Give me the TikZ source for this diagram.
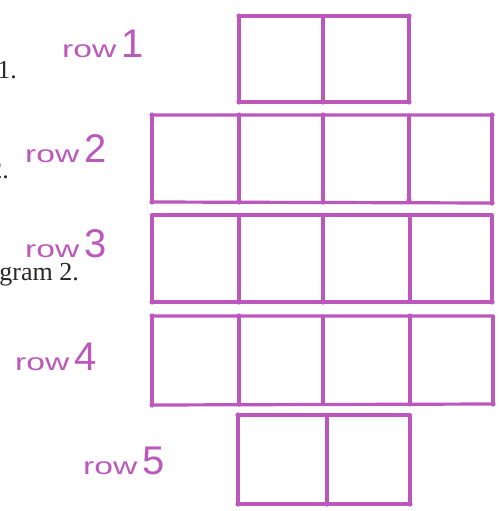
\documentclass[tikz,border=0pt]{standalone}
\usepackage{fontspec}
\usepackage{graphicx}
\setmainfont{Liberation Serif}
\newfontfamily\handfont{Liberation Sans}
\definecolor{pen}{RGB}{188,88,188}
\definecolor{ink}{RGB}{40,40,40}
\newcommand{\rowlabel}[1]{\scalebox{1.2}[0.85]{row}\hspace{5pt}{\fontsize{40}{40}\selectfont #1}}
\begin{document}
\begin{tikzpicture}[x=1pt,y=-1pt,
  gridline/.style={draw=pen,line width=3.2pt,line cap=round},
  cornerdot/.style={fill=pen},
  handlabel/.style={text=pen,inner sep=0pt,anchor=base west,font=\handfont\fontsize{28}{28}\selectfont},
  printed/.style={text=ink,inner sep=0pt,anchor=base east,font=\fontsize{26}{26}\selectfont}]
\useasboundingbox (0,0) rectangle (499,511);
\clip (0,0) rectangle (499,511);
% printed fragments (cut at the left edge)
\node[printed] (p1) at (17,78) {1.};
\node[printed] (p2) at (9,178) {2.};
\node[printed] (p3) at (79,280) {gram 2.};
% handwritten labels
\node[handlabel] (r1) at (62,57) {\rowlabel{1}};
\node[handlabel] (r2) at (25,162) {\rowlabel{2}};
\node[handlabel] (r3) at (25,257) {\rowlabel{3}};
\node[handlabel] (r4) at (15,370) {\rowlabel{4}};
\node[handlabel] (r5) at (83,474) {\rowlabel{5}};
% row 1
\draw[gridline] (239,16) -- (409,16) (239,102) -- (409,102);
\foreach \x in {239,323,409} \draw[gridline] (\x,16) -- (\x,102);
% row 2
\draw[gridline] (152,115) -- (492,115) (152,202) -- (492,203);
\foreach \x in {152,239,323,409,492} \draw[gridline] (\x,115) -- (\x,202);
% row 3
\draw[gridline] (152,215) -- (492,215) (152,302) -- (492,302);
\foreach \x in {152,239,323,410,492} \draw[gridline] (\x,215) -- (\x,302);
% row 4
\draw[gridline] (152,316) -- (493,316) (152,405) -- (493,404);
\foreach \x in {152,239,323,410,493} \draw[gridline] (\x,316) -- (\x,404);
% row 5
\draw[gridline] (238,415) -- (410,415) (238,504) -- (410,504);
\foreach \x in {238,327,410} \draw[gridline] (\x,415) -- (\x,504);
% marker dots at corners
\foreach \p in {(239,16),(409,16),(239,102),(323,102),(409,102),
  (152,115),(239,115),(323,115),(492,115),(152,202),(239,202),(323,202),(409,200),(492,203),
  (152,302),(239,302),(323,302),(492,302),(152,316),(239,316),(410,316),
  (239,404),(410,404),(493,404),(152,405),(238,415),(238,504),(327,504),(410,504)}
  \fill[cornerdot] \p circle (2.6);
\end{tikzpicture}
\end{document}
